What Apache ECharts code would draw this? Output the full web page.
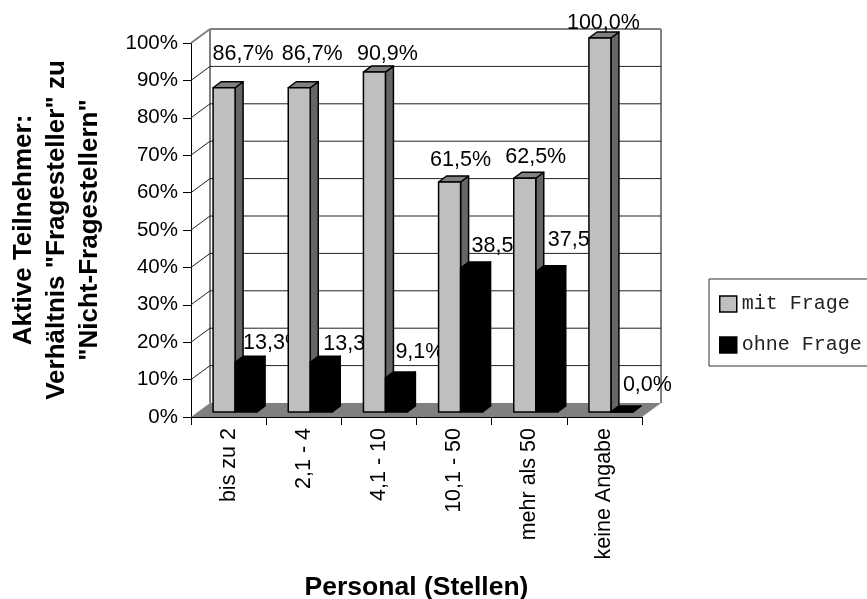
<!DOCTYPE html>
<html><head><meta charset="utf-8">
<style>html,body{margin:0;padding:0;background:#fff}#c{width:867px;height:599px}</style>
<script src="https://cdn.jsdelivr.net/npm/echarts@6/dist/echarts.min.js"></script>
</head><body><div id="c"></div>
<script>
const categories = ['bis zu 2','2,1 - 4','4,1 - 10','10,1 - 50','mehr als 50','keine Angabe'];
const mitFrage = [86.7,86.7,90.9,61.5,62.5,100.0];
const ohneFrage = [13.3,13.3,9.1,38.5,37.5,0.0];
const yTicks = [0,10,20,30,40,50,60,70,80,90,100];

// layout (pixels)
const WALL = [19,-14], BAR_SHIFT = -5, BAR_DEPTH = [8,-6];
const grayLabelOffset = [[14.5,34],[8.5,34],[8.5,18],[6.5,22],[6.5,21],[-1,15]];
const blackLabelOffset = [[14.5,19],[19.5,18],[16.5,26],[17.5,22],[18.5,32],[18.5,27]];
const fmt = v => v.toFixed(1).replace('.',',') + '%';
const SANS = '"Liberation Sans", Arial, sans-serif';
const LABEL_FONT = '21.5px ' + SANS;
const C = {front:'#bfbfbf', top:'#808080', side:'#666666', black:'#000000'};

function box(x0,x1,yTop,yBase,colors,z){
  const [dx,dy]=BAR_DEPTH, st={stroke:'#000',lineWidth:1.5,lineJoin:'round'};
  return [
    {type:'polygon',z2:z,shape:{points:[[x1,yTop],[x1+dx,yTop+dy],[x1+dx,yBase+dy],[x1,yBase]]},style:{fill:colors.side,...st}},
    {type:'polygon',z2:z,shape:{points:[[x0,yTop],[x0+dx,yTop+dy],[x1+dx,yTop+dy],[x1,yTop]]},style:{fill:colors.top,...st}},
    {type:'rect',z2:z,shape:{x:x0,y:yTop,width:x1-x0,height:yBase-yTop},style:{fill:colors.front,...st}}
  ];
}
function renderBar(kind){
  return function(params,api){
    const i=api.value(0), v=api.value(1);
    const [cx,yTop0]=api.coord([i,v]);
    const yBase=api.coord([i,0])[1]+BAR_SHIFT, yTop=yTop0+BAR_SHIFT;
    const kids=[];
    if(kind==='gray'){
      const c={front:C.front,top:C.top,side:C.side};
      kids.push(...box(cx-15.5,cx+6.5,yTop,yBase,c,10+3*i));
      const o=grayLabelOffset[i];
      kids.push({type:'text',z2:200,style:{x:cx+o[0],y:yTop-o[1],text:fmt(v),fill:'#000',font:LABEL_FONT,textAlign:'center',textVerticalAlign:'middle'}});
    }else{
      const c={front:C.black,top:C.black,side:C.black};
      kids.push(...box(cx+6.5,cx+28.5,yTop,yBase,c,11+3*i));
      const o=blackLabelOffset[i];
      kids.push({type:'text',z2:12+3*i,style:{x:cx+o[0],y:yTop-o[1],text:fmt(v),fill:'#000',font:LABEL_FONT,textAlign:'left',textVerticalAlign:'middle'}});
    }
    return {type:'group',children:kids};
  };
}
function renderFrame(params,api){
  const cs=params.coordSys, L=cs.x, R=cs.x+cs.width;
  const v=api.value(1), y=api.coord([0,v])[1];
  const [wx,wy]=WALL, kids=[];
  if(v===0){
    kids.push({type:'polygon',z2:1,shape:{points:[[L,y],[R,y],[R+wx,y+wy],[L+wx,y+wy]]},style:{fill:'#808080'}});
    const t=api.coord([0,100])[1];
    kids.push({type:'line',z2:2,shape:{x1:L+wx,y1:t+wy,x2:L+wx,y2:y+wy},style:{stroke:'#808080',lineWidth:2}});
    kids.push({type:'line',z2:2,shape:{x1:R+wx,y1:t+wy,x2:R+wx,y2:y+wy},style:{stroke:'#808080',lineWidth:2}});
  }else{
    const top=(v===100), stroke=top?'#808080':'#222', lineWidth=top?2:1;
    kids.push({type:'line',z2:3,shape:{x1:L,y1:y,x2:L+wx,y2:y+wy},style:{stroke,lineWidth}});
    kids.push({type:'line',z2:3,shape:{x1:L+wx,y1:y+wy,x2:R+wx,y2:y+wy},style:{stroke,lineWidth}});
  }
  return {type:'group',children:kids};
}
const chart=echarts.init(document.getElementById('c'),null,{renderer:'canvas'});
chart.setOption({
  animation:false,
  backgroundColor:'#fff',
  textStyle:{fontFamily:SANS,color:'#000'},
  grid:{left:191,top:43,width:451,height:374,containLabel:false,outerBoundsMode:'none'},
  xAxis:{type:'category',data:categories,boundaryGap:true,
    name:'Personal (Stellen)',nameLocation:'middle',nameGap:157,
    nameTextStyle:{fontSize:26.5,fontWeight:'bold',color:'#000',fontFamily:SANS},
    axisLine:{lineStyle:{color:'#000',width:1}},
    axisTick:{show:true,length:8,lineStyle:{color:'#000'},alignWithLabel:false},
    axisLabel:{rotate:90,interval:0,fontSize:21.5,margin:11,color:'#000',fontFamily:SANS},
    splitLine:{show:false}},
  yAxis:{type:'value',min:0,max:100,interval:10,
    name:'Aktive Teilnehmer:\nVerhältnis "Fragesteller" zu\n"Nicht-Fragestellern"',
    nameLocation:'middle',nameGap:85,nameRotate:90,
    nameTextStyle:{fontSize:26,fontWeight:'bold',lineHeight:33,color:'#000',fontFamily:SANS},
    axisLine:{show:true,lineStyle:{color:'#000',width:1}},
    axisTick:{show:true,length:8,lineStyle:{color:'#000'}},
    axisLabel:{formatter:'{value}%',fontSize:20.5,margin:13,color:'#000',fontFamily:SANS},
    splitLine:{show:false}},
  legend:{left:709,top:279,orient:'vertical',selectedMode:false,
    padding:[15,60,11,10],itemWidth:17,itemHeight:16,itemGap:21,
    backgroundColor:'#fff',borderColor:'#333',borderWidth:1,borderRadius:0,
    textStyle:{fontFamily:'"Liberation Mono", "Courier New", monospace',fontSize:20,color:'#222'},
    data:[
      {name:'mit Frage',icon:'rect',itemStyle:{color:C.front,borderColor:'#000',borderWidth:1.5}},
      {name:'ohne Frage',icon:'rect',itemStyle:{color:C.black,borderColor:'#000',borderWidth:1.5}}
    ]},
  series:[
    {name:'Rahmen',type:'custom',silent:true,clip:false,renderItem:renderFrame,
      data:yTicks.map(t=>[0,t]),encode:{x:0,y:1}},
    {name:'mit Frage',type:'custom',silent:true,clip:false,renderItem:renderBar('gray'),
      itemStyle:{color:C.front},data:mitFrage.map((v,i)=>[i,v]),encode:{x:0,y:1}},
    {name:'ohne Frage',type:'custom',silent:true,clip:false,renderItem:renderBar('black'),
      itemStyle:{color:C.black},data:ohneFrage.map((v,i)=>[i,v]),encode:{x:0,y:1}}
  ]
});
</script></body></html>
